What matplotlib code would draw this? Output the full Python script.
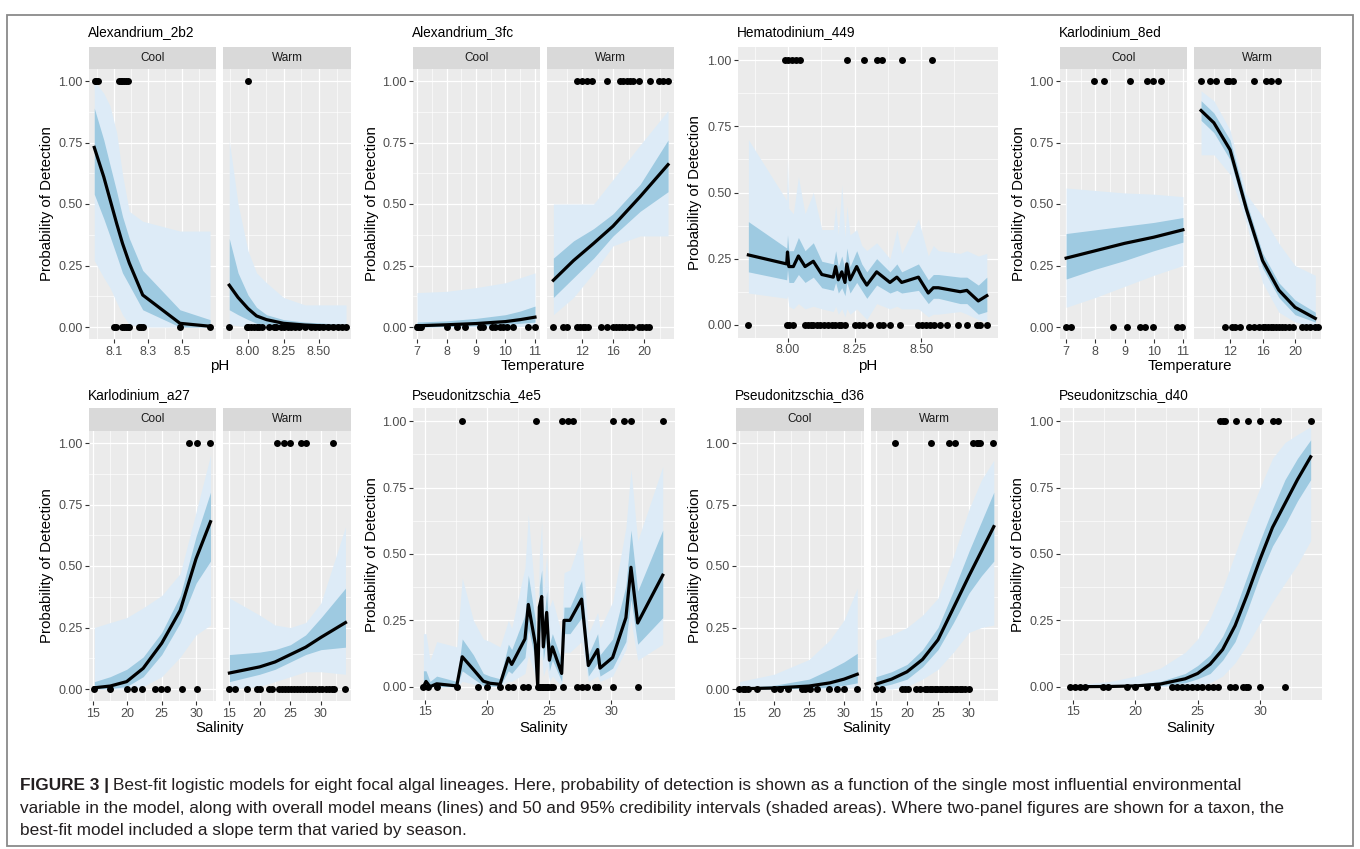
import matplotlib.pyplot as plt
from matplotlib.patches import Rectangle
import numpy as np

plt.rcParams["font.family"] = ["Liberation Sans", "DejaVu Sans"]

# ---- data ----
# Alexandrium_2b2, pH
a2b2_cool_x = [7.984, 8.04, 8.076, 8.116, 8.15, 8.19, 8.269, 8.488, 8.665]
a2b2_cool_mean = [0.73, 0.61, 0.52, 0.42, 0.34, 0.26, 0.13, 0.015, 0.003]
a2b2_cool_hi95 = [1.0, 0.95, 0.9, 0.79, 0.62, 0.47, 0.43, 0.39, 0.39]
a2b2_cool_lo95 = [0.27, 0.2, 0.16, 0.1, 0.05, 0.01, 0.0, 0.0, 0.0]
a2b2_cool_hi50 = [0.89, 0.76, 0.66, 0.55, 0.45, 0.36, 0.23, 0.07, 0.03]
a2b2_cool_lo50 = [0.54, 0.44, 0.37, 0.29, 0.22, 0.17, 0.07, 0.0, 0.0]
a2b2_cool_det = [7.99, 7.995, 8.005, 8.13, 8.14, 8.15, 8.16, 8.17, 8.185]
a2b2_cool_non = [8.1, 8.11, 8.15, 8.16, 8.17, 8.18, 8.19, 8.25, 8.26, 8.27, 8.49, 8.665]

a2b2_warm_x = [7.868, 7.93, 8.0, 8.06, 8.13, 8.25, 8.4, 8.55, 8.69]
a2b2_warm_mean = [0.17, 0.12, 0.075, 0.045, 0.03, 0.015, 0.008, 0.004, 0.002]
a2b2_warm_hi95 = [0.76, 0.5, 0.31, 0.22, 0.18, 0.12, 0.09, 0.09, 0.09]
a2b2_warm_lo95 = [0.01, 0.005, 0.002, 0.001, 0.0, 0.0, 0.0, 0.0, 0.0]
a2b2_warm_hi50 = [0.36, 0.22, 0.13, 0.08, 0.05, 0.03, 0.02, 0.015, 0.01]
a2b2_warm_lo50 = [0.07, 0.05, 0.03, 0.015, 0.01, 0.005, 0.002, 0.001, 0.0]
a2b2_warm_det = [8.0]
a2b2_warm_non = [7.868, 7.99, 8.0, 8.02, 8.04, 8.06, 8.08, 8.1, 8.15, 8.18, 8.2, 8.23,
                 8.25, 8.28, 8.3, 8.33, 8.36, 8.4, 8.44, 8.47, 8.5, 8.53, 8.56, 8.6,
                 8.63, 8.66, 8.69]

# Alexandrium_3fc, Temperature
a3fc_cool_x = [7.0, 8.0, 9.0, 10.0, 10.5, 11.0]
a3fc_cool_mean = [0.005, 0.009, 0.014, 0.022, 0.03, 0.04]
a3fc_cool_hi95 = [0.14, 0.145, 0.16, 0.18, 0.2, 0.22]
a3fc_cool_lo95 = [0.0, 0.0, 0.0, 0.0, 0.002, 0.005]
a3fc_cool_hi50 = [0.02, 0.025, 0.035, 0.05, 0.065, 0.085]
a3fc_cool_lo50 = [0.0, 0.002, 0.005, 0.01, 0.015, 0.02]
a3fc_cool_det = []
a3fc_cool_non = [7.0, 7.05, 7.1, 7.15, 8.0, 8.35, 8.63, 9.14, 9.25, 9.53, 9.65, 9.8,
                 9.9, 10.04, 10.27, 10.77, 11.0]

a3fc_warm_x = [8.3, 10.9, 13.5, 16.0, 19.5, 23.1]
a3fc_warm_mean = [0.19, 0.27, 0.34, 0.41, 0.53, 0.66]
a3fc_warm_hi95 = [0.5, 0.5, 0.5, 0.6, 0.74, 0.88]
a3fc_warm_lo95 = [0.05, 0.12, 0.22, 0.33, 0.37, 0.37]
a3fc_warm_hi50 = [0.28, 0.35, 0.4, 0.46, 0.58, 0.76]
a3fc_warm_lo50 = [0.12, 0.2, 0.28, 0.37, 0.47, 0.55]
a3fc_warm_det = [11.3, 11.96, 12.6, 13.25, 15.2, 16.9, 17.3, 17.8, 18.2, 18.6, 19.3,
                 20.8, 21.9, 22.5, 23.1]
a3fc_warm_non = [8.2, 9.5, 10.1, 11.4, 11.8, 12.1, 12.4, 12.8, 14.5, 15.2, 16.0, 16.4,
                 16.8, 17.2, 17.6, 18.0, 18.4, 19.3, 19.8, 20.3, 20.7]

# Hematodinium_449, pH
hem_x = [7.851, 7.995, 7.998, 8.003, 8.02, 8.039, 8.064, 8.095, 8.127, 8.17, 8.179,
         8.189, 8.202, 8.214, 8.221, 8.233, 8.258, 8.277, 8.296, 8.333, 8.383, 8.409,
         8.427, 8.49, 8.527, 8.546, 8.565, 8.647, 8.672, 8.715, 8.747]
hem_mean = [0.264, 0.23, 0.275, 0.22, 0.22, 0.26, 0.22, 0.24, 0.19, 0.18, 0.22, 0.17,
            0.2, 0.16, 0.23, 0.17, 0.22, 0.18, 0.15, 0.2, 0.16, 0.18, 0.16, 0.18, 0.12,
            0.14, 0.14, 0.125, 0.13, 0.09, 0.11]
hem_hi95 = [0.7, 0.47, 0.63, 0.44, 0.42, 0.56, 0.42, 0.5, 0.36, 0.36, 0.45, 0.34, 0.53,
            0.33, 0.45, 0.34, 0.36, 0.3, 0.28, 0.31, 0.25, 0.36, 0.27, 0.4, 0.26, 0.3,
            0.28, 0.27, 0.28, 0.26, 0.27]
hem_lo95 = [0.12, 0.1, 0.11, 0.07, 0.06, 0.08, 0.06, 0.07, 0.06, 0.05, 0.07, 0.04, 0.06,
            0.03, 0.06, 0.04, 0.06, 0.04, 0.02, 0.08, 0.06, 0.07, 0.06, 0.06, 0.03, 0.04,
            0.04, 0.05, 0.04, 0.02, 0.01]
hem_hi50 = [0.39, 0.29, 0.34, 0.28, 0.28, 0.33, 0.28, 0.31, 0.24, 0.23, 0.28, 0.22, 0.26,
            0.21, 0.29, 0.22, 0.28, 0.23, 0.2, 0.25, 0.2, 0.23, 0.2, 0.23, 0.17, 0.19,
            0.19, 0.18, 0.18, 0.15, 0.18]
hem_lo50 = [0.2, 0.17, 0.21, 0.16, 0.16, 0.19, 0.16, 0.18, 0.14, 0.13, 0.16, 0.12, 0.14,
            0.11, 0.16, 0.12, 0.16, 0.13, 0.1, 0.15, 0.12, 0.13, 0.12, 0.13, 0.08, 0.1,
            0.1, 0.08, 0.08, 0.04, 0.05]
hem_det = [7.99, 8.0, 8.015, 8.03, 8.045, 8.221, 8.286, 8.333, 8.352, 8.427, 8.54]
hem_non = [7.851, 7.995, 8.005, 8.02, 8.064, 8.075, 8.085, 8.095, 8.11, 8.12, 8.135,
           8.15, 8.165, 8.175, 8.19, 8.2, 8.215, 8.252, 8.265, 8.28, 8.308, 8.343,
           8.358, 8.383, 8.421, 8.49, 8.505, 8.52, 8.535, 8.55, 8.57, 8.596, 8.64,
           8.672, 8.71, 8.72, 8.747]

# Karlodinium_8ed, Temperature
k8ed_cool_x = [7.0, 8.0, 9.0, 10.0, 11.0]
k8ed_cool_mean = [0.28, 0.31, 0.34, 0.365, 0.395]
k8ed_cool_hi95 = [0.565, 0.555, 0.545, 0.54, 0.53]
k8ed_cool_lo95 = [0.08, 0.12, 0.165, 0.21, 0.25]
k8ed_cool_hi50 = [0.38, 0.395, 0.41, 0.425, 0.445]
k8ed_cool_lo50 = [0.195, 0.235, 0.27, 0.31, 0.345]
k8ed_cool_det = [7.96, 8.3, 9.19, 9.76, 9.99, 10.25]
k8ed_cool_non = [7.0, 7.17, 8.6, 9.08, 9.53, 9.7, 9.97, 10.8, 10.96]

k8ed_warm_x = [8.42, 10.0, 12.0, 14.0, 16.0, 18.0, 20.0, 22.5]
k8ed_warm_mean = [0.88, 0.83, 0.72, 0.48, 0.27, 0.15, 0.08, 0.035]
k8ed_warm_hi95 = [0.96, 0.92, 0.8, 0.54, 0.45, 0.34, 0.25, 0.21]
k8ed_warm_lo95 = [0.7, 0.7, 0.62, 0.42, 0.18, 0.06, 0.02, 0.0]
k8ed_warm_hi50 = [0.92, 0.87, 0.76, 0.51, 0.3, 0.18, 0.11, 0.06]
k8ed_warm_lo50 = [0.84, 0.79, 0.68, 0.45, 0.24, 0.12, 0.05, 0.02]
k8ed_warm_det = [8.42, 9.53, 10.27, 11.6, 11.9, 12.3, 14.96, 16.4, 17.1, 17.9]
k8ed_warm_non = [11.4, 12.2, 12.6, 13.2, 14.3, 14.9, 15.5, 16.0, 16.3, 16.7, 17.0, 17.3,
                 17.6, 18.0, 18.4, 18.8, 19.3, 19.8, 20.8, 21.4, 21.8, 22.4, 22.8]

# Karlodinium_a27, Salinity
ka27_cool_x = [15.2, 17.5, 19.9, 22.3, 25.0, 27.7, 30.0, 32.1]
ka27_cool_mean = [0.005, 0.012, 0.03, 0.084, 0.186, 0.32, 0.53, 0.68]
ka27_cool_hi95 = [0.25, 0.27, 0.29, 0.33, 0.38, 0.47, 0.72, 0.95]
ka27_cool_lo95 = [0.0, 0.0, 0.0, 0.01, 0.05, 0.13, 0.22, 0.26]
ka27_cool_hi50 = [0.03, 0.05, 0.08, 0.13, 0.23, 0.38, 0.62, 0.8]
ka27_cool_lo50 = [0.0, 0.002, 0.01, 0.05, 0.14, 0.27, 0.43, 0.52]
ka27_cool_det = [29.0, 30.1, 32.0]
ka27_cool_non = [15.2, 17.5, 19.9, 20.9, 22.1, 24.0, 24.9, 25.7, 28.0, 30.1]

ka27_warm_x = [15.05, 20.0, 22.5, 25.0, 27.5, 30.0, 34.0]
ka27_warm_mean = [0.065, 0.09, 0.11, 0.14, 0.17, 0.21, 0.27]
ka27_warm_hi95 = [0.37, 0.3, 0.26, 0.25, 0.27, 0.35, 0.66]
ka27_warm_lo95 = [0.0, 0.01, 0.03, 0.05, 0.07, 0.07, 0.06]
ka27_warm_hi50 = [0.14, 0.15, 0.16, 0.18, 0.22, 0.29, 0.41]
ka27_warm_lo50 = [0.03, 0.06, 0.08, 0.11, 0.14, 0.16, 0.17]
ka27_warm_det = [22.8, 23.9, 25.0, 26.8, 27.6, 32.0]
ka27_warm_non = [15.05, 15.98, 18.0, 19.5, 20.1, 21.5, 22.0, 23.1, 23.6, 24.1, 24.6,
                 25.1, 25.6, 26.1, 26.6, 27.1, 27.6, 28.1, 28.6, 29.1, 29.7, 30.2, 30.8,
                 31.3, 31.8, 32.2, 34.0]

# Pseudonitzschia_4e5, Salinity
p4e5_x = [14.87, 15.08, 15.4, 15.94, 17.56, 18.0, 18.9, 19.7, 20.24, 21.05, 21.72,
          21.99, 23.06, 23.33, 23.9, 24.09, 24.22, 24.41, 24.54, 24.81, 25.03, 25.27,
          26.02, 26.21, 26.69, 27.63, 28.17, 28.92, 29.11, 30.13, 31.2, 31.61, 32.15,
          34.17]
p4e5_mean = [0.0, 0.02, 0.0, 0.011, 0.003, 0.113, 0.065, 0.021, 0.013, 0.009, 0.108,
             0.084, 0.18, 0.31, 0.16, 0.0, 0.3, 0.34, 0.15, 0.28, 0.1, 0.15, 0.05, 0.25,
             0.25, 0.33, 0.08, 0.14, 0.07, 0.11, 0.26, 0.45, 0.24, 0.42]
p4e5_hi95 = [0.2, 0.2, 0.1, 0.17, 0.15, 0.41, 0.25, 0.18, 0.17, 0.15, 0.25, 0.22, 0.45,
             0.65, 0.33, 0.1, 0.5, 0.62, 0.35, 0.5, 0.3, 0.33, 0.2, 0.43, 0.44, 0.57,
             0.2, 0.28, 0.22, 0.32, 0.6, 0.82, 0.55, 0.83]
p4e5_lo95 = [0, 0, 0, 0, 0, 0.02, 0.01, 0, 0, 0, 0.02, 0.02, 0.05, 0.12, 0.04, 0, 0.1,
             0.12, 0.04, 0.08, 0.02, 0.04, 0.0, 0.13, 0.13, 0.17, 0.02, 0.04, 0.02,
             0.04, 0.14, 0.25, 0.1, 0.16]
p4e5_hi50 = [0.06, 0.06, 0.02, 0.04, 0.02, 0.18, 0.12, 0.05, 0.04, 0.03, 0.16, 0.14,
             0.27, 0.42, 0.25, 0.04, 0.38, 0.44, 0.23, 0.36, 0.16, 0.2, 0.1, 0.3, 0.3,
             0.4, 0.12, 0.2, 0.12, 0.18, 0.38, 0.59, 0.36, 0.59]
p4e5_lo50 = [0, 0, 0, 0, 0, 0.06, 0.03, 0.005, 0.003, 0.002, 0.06, 0.05, 0.11, 0.22,
             0.1, 0, 0.2, 0.24, 0.1, 0.19, 0.06, 0.1, 0.02, 0.2, 0.2, 0.26, 0.04, 0.09,
             0.04, 0.07, 0.17, 0.33, 0.16, 0.26]
p4e5_det = [18.0, 23.95, 26.02, 26.5, 26.9, 30.13, 31.07, 31.61, 34.17]
p4e5_non = [14.87, 15.27, 15.94, 17.56, 19.3, 19.98, 21.05, 21.72, 22.07, 22.93, 23.33,
            24.14, 24.3, 24.41, 24.55, 24.68, 24.81, 24.95, 25.15, 25.35, 26.16, 27.24,
            27.63, 28.04, 28.71, 28.98, 30.13, 32.15]

# Pseudonitzschia_d36, Salinity
d36_cool_x = [15.05, 20.0, 25.0, 28.0, 30.0, 31.9]
d36_cool_mean = [0.001, 0.004, 0.012, 0.025, 0.04, 0.06]
d36_cool_hi95 = [0.03, 0.06, 0.12, 0.2, 0.28, 0.41]
d36_cool_lo95 = [0.0, 0.0, 0.0, 0.0, 0.003, 0.01]
d36_cool_hi50 = [0.005, 0.015, 0.04, 0.08, 0.11, 0.145]
d36_cool_lo50 = [0.0, 0.0, 0.003, 0.008, 0.015, 0.025]
d36_cool_det = []
d36_cool_non = [15.05, 15.5, 15.86, 16.3, 17.6, 20.05, 20.86, 22.05, 23.95, 24.5, 25.1,
                26.1, 27.9, 28.95, 30.0, 31.9]

d36_warm_x = [15.0, 17.5, 20.0, 22.5, 25.0, 27.5, 30.0, 32.0, 34.0]
d36_warm_mean = [0.02, 0.04, 0.07, 0.12, 0.2, 0.33, 0.46, 0.56, 0.66]
d36_warm_hi95 = [0.2, 0.22, 0.25, 0.3, 0.37, 0.54, 0.73, 0.85, 0.93]
d36_warm_lo95 = [0.0, 0.0, 0.01, 0.04, 0.08, 0.15, 0.23, 0.25, 0.26]
d36_warm_hi50 = [0.05, 0.07, 0.1, 0.16, 0.25, 0.4, 0.56, 0.68, 0.8]
d36_warm_lo50 = [0.005, 0.02, 0.04, 0.09, 0.16, 0.27, 0.39, 0.46, 0.52]
d36_warm_det = [18.06, 23.87, 26.7, 27.7, 30.7, 31.24, 31.5, 31.77, 33.8]
d36_warm_non = [15.0, 15.9, 19.2, 19.6, 20.1, 21.5, 22.1, 22.9, 23.3, 23.7, 24.1, 24.5,
                24.9, 25.3, 25.7, 26.1, 26.5, 26.9, 27.3, 27.7, 28.1, 28.5, 28.9, 29.3,
                30.0]

# Pseudonitzschia_d40, Salinity
d40_x = [14.76, 18.0, 20.0, 22.0, 24.0, 25.0, 26.0, 27.0, 28.0, 29.0, 30.0, 31.0, 32.0,
         33.0, 34.06]
d40_mean = [0.0, 0.001, 0.003, 0.01, 0.03, 0.05, 0.085, 0.14, 0.23, 0.35, 0.48, 0.6,
            0.69, 0.78, 0.866]
d40_hi95 = [0.005, 0.02, 0.04, 0.07, 0.13, 0.18, 0.26, 0.37, 0.5, 0.63, 0.75, 0.86,
            0.92, 0.95, 0.98]
d40_lo95 = [0.0, 0.0, 0.0, 0.0, 0.0, 0.005, 0.015, 0.04, 0.09, 0.16, 0.24, 0.32, 0.39,
            0.46, 0.55]
d40_hi50 = [0.0, 0.003, 0.008, 0.02, 0.05, 0.08, 0.12, 0.19, 0.29, 0.42, 0.55, 0.67,
            0.78, 0.86, 0.93]
d40_lo50 = [0.0, 0.0, 0.001, 0.004, 0.015, 0.03, 0.05, 0.1, 0.17, 0.29, 0.42, 0.53,
            0.61, 0.7, 0.78]
d40_det = [26.79, 27.0, 27.19, 28.07, 29.0, 30.0, 31.01, 31.46, 34.06]
d40_non = [14.76, 15.16, 15.56, 15.96, 17.43, 17.83, 19.3, 19.97, 20.9, 21.7, 22.91,
           23.31, 23.71, 24.11, 24.51, 24.91, 25.31, 25.85, 26.25, 26.65, 27.58, 27.98,
           28.65, 28.85, 29.05, 30.0, 32.0]

# ---- figure ----
W, H = 1360, 849
fig = plt.figure(figsize=(W / 100, H / 100), dpi=100)

LIGHT = "#DDEBF7"
DARK = "#9ECAE1"


def box(l, t, r, b):
    return [l / W, 1 - b / H, (r - l) / W, (b - t) / H]


def facet(pos, x, mean, lo95, hi95, lo50, hi50, det, non, xlim, ticks, labels, minor,
          show_y=True):
    ax = fig.add_axes(box(*pos))
    ax.set_facecolor("#EBEBEB")
    ax.fill_between(x, lo95, hi95, color=LIGHT, lw=0)
    ax.fill_between(x, lo50, hi50, color=DARK, lw=0)
    ax.plot(x, mean, color="black", lw=2.3, solid_joinstyle="round")
    ax.scatter(det, np.ones(len(det)), s=25, color="black", lw=0, zorder=5)
    ax.scatter(non, np.zeros(len(non)), s=25, color="black", lw=0, zorder=5)
    ax.set_xlim(xlim)
    ax.set_ylim(-0.05, 1.05)
    ax.set_xticks(ticks)
    ax.set_xticklabels(labels)
    ax.set_xticks(minor, minor=True)
    ax.set_yticks([0, 0.25, 0.5, 0.75, 1.0])
    ax.set_yticklabels(["0.00", "0.25", "0.50", "0.75", "1.00"])
    ax.set_yticks([0.125, 0.375, 0.625, 0.875], minor=True)
    ax.set_axisbelow(True)
    ax.grid(which="major", color="white", lw=0.9)
    ax.grid(which="minor", color="white", lw=0.45)
    ax.tick_params(which="minor", length=0)
    ax.tick_params(which="major", length=2.6, width=0.8, color="#333333",
                   labelsize=9, labelcolor="#4D4D4D", pad=2)
    if not show_y:
        ax.tick_params(axis="y", left=False, labelleft=False)
    for s in ax.spines.values():
        s.set_visible(False)
    return ax


def strip(l, t, r, b, label):
    ax = fig.add_axes(box(l, t, r, b))
    ax.set_facecolor("#D9D9D9")
    ax.set_xticks([])
    ax.set_yticks([])
    for s in ax.spines.values():
        s.set_visible(False)
    ax.text(0.5, 0.5, label, ha="center", va="center", fontsize=8.5, color="#1A1A1A",
            transform=ax.transAxes)


def title(x, y, s):
    fig.text(x / W, 1 - y / H, s, ha="left", va="center", fontsize=9.8, color="black")


def xlab(x, y, s):
    fig.text(x / W, 1 - y / H, s, ha="center", va="center", fontsize=10.8)


def ylab(x, y, s="Probability of Detection"):
    fig.text(x / W, 1 - y / H, s, ha="center", va="center", rotation=90, fontsize=10.8)


ph_c = ([8.1, 8.3, 8.5], ["8.1", "8.3", "8.5"], [8.0, 8.2, 8.4, 8.6])
ph_w = ([8.0, 8.25, 8.5], ["8.00", "8.25", "8.50"], [7.875, 8.125, 8.375, 8.625])
tc = ([7, 8, 9, 10, 11], ["7", "8", "9", "10", "11"], [7.5, 8.5, 9.5, 10.5])
tw = ([12, 16, 20], ["12", "16", "20"], [10, 14, 18, 22])
sal = ([15, 20, 25, 30], ["15", "20", "25", "30"], [17.5, 22.5, 27.5, 32.5])

# row 1
R1S, R1T, R1B = 47, 68.7, 339.3
R2S, R2T, R2B = 408, 430.7, 701.3

facet((89, R1T, 216, R1B), a2b2_cool_x, a2b2_cool_mean, a2b2_cool_lo95, a2b2_cool_hi95,
      a2b2_cool_lo50, a2b2_cool_hi50, a2b2_cool_det, a2b2_cool_non, (7.953, 8.70), *ph_c)
facet((223, R1T, 351, R1B), a2b2_warm_x, a2b2_warm_mean, a2b2_warm_lo95, a2b2_warm_hi95,
      a2b2_warm_lo50, a2b2_warm_hi50, a2b2_warm_det, a2b2_warm_non, (7.824, 8.725), *ph_w,
      show_y=False)
strip(89, R1S, 216, R1T, "Cool")
strip(223, R1S, 351, R1T, "Warm")
title(88, 32, "Alexandrium_2b2")
xlab(220, 366, "pH")
ylab(47, 204)

facet((413, R1T, 540, R1B), a3fc_cool_x, a3fc_cool_mean, a3fc_cool_lo95, a3fc_cool_hi95,
      a3fc_cool_lo50, a3fc_cool_hi50, a3fc_cool_det, a3fc_cool_non, (6.864, 11.17), *tc)
facet((547, R1T, 674, R1B), a3fc_warm_x, a3fc_warm_mean, a3fc_warm_lo95, a3fc_warm_hi95,
      a3fc_warm_lo50, a3fc_warm_hi50, a3fc_warm_det, a3fc_warm_non, (7.48, 23.87), *tw,
      show_y=False)
strip(413, R1S, 540, R1T, "Cool")
strip(547, R1S, 674, R1T, "Warm")
title(412, 32, "Alexandrium_3fc")
xlab(543, 366, "Temperature")
ylab(372, 204)

facet((738, 47, 998, 338), hem_x, hem_mean, hem_lo95, hem_hi95, hem_lo50, hem_hi50,
      hem_det, hem_non, (7.812, 8.789), *ph_w)
title(737, 32, "Hematodinium_449")
xlab(868, 366, "pH")
ylab(695, 193)

facet((1060, R1T, 1187, R1B), k8ed_cool_x, k8ed_cool_mean, k8ed_cool_lo95, k8ed_cool_hi95,
      k8ed_cool_lo50, k8ed_cool_hi50, k8ed_cool_det, k8ed_cool_non, (6.79, 11.14), *tc)
facet((1194, R1T, 1321, R1B), k8ed_warm_x, k8ed_warm_mean, k8ed_warm_lo95, k8ed_warm_hi95,
      k8ed_warm_lo50, k8ed_warm_hi50, k8ed_warm_det, k8ed_warm_non, (7.55, 23.2), *tw,
      show_y=False)
strip(1060, R1S, 1187, R1T, "Cool")
strip(1194, R1S, 1321, R1T, "Warm")
title(1059, 32, "Karlodinium_8ed")
xlab(1190, 366, "Temperature")
ylab(1019, 204)

# row 2
facet((89, R2T, 216, R2B), ka27_cool_x, ka27_cool_mean, ka27_cool_lo95, ka27_cool_hi95,
      ka27_cool_lo50, ka27_cool_hi50, ka27_cool_det, ka27_cool_non, (14.42, 32.9), *sal)
facet((223, R2T, 351, R2B), ka27_warm_x, ka27_warm_mean, ka27_warm_lo95, ka27_warm_hi95,
      ka27_warm_lo50, ka27_warm_hi50, ka27_warm_det, ka27_warm_non, (14.0, 34.9), *sal,
      show_y=False)
strip(89, R2S, 216, R2T, "Cool")
strip(223, R2S, 351, R2T, "Warm")
title(88, 395, "Karlodinium_a27")
xlab(220, 728, "Salinity")
ylab(47, 566)

facet((413, 408, 675, 700), p4e5_x, p4e5_mean, p4e5_lo95, p4e5_hi95, p4e5_lo50, p4e5_hi50,
      p4e5_det, p4e5_non, (14.03, 35.16), *sal)
title(412, 395, "Pseudonitzschia_4e5")
xlab(544, 728, "Salinity")
ylab(372, 555)

facet((736, R2T, 864, R2B), d36_cool_x, d36_cool_mean, d36_cool_lo95, d36_cool_hi95,
      d36_cool_lo50, d36_cool_hi50, d36_cool_det, d36_cool_non, (14.57, 32.86), *sal)
facet((871, R2T, 998, R2B), d36_warm_x, d36_warm_mean, d36_warm_lo95, d36_warm_hi95,
      d36_warm_lo50, d36_warm_hi50, d36_warm_det, d36_warm_non, (14.19, 34.68), *sal,
      show_y=False)
strip(736, R2S, 864, R2T, "Cool")
strip(871, R2S, 998, R2T, "Warm")
title(735, 395, "Pseudonitzschia_d36")
xlab(867, 728, "Salinity")
ylab(695, 566)

facet((1060, 408, 1322, 700), d40_x, d40_mean, d40_lo95, d40_hi95, d40_lo50, d40_hi50,
      d40_det, d40_non, (13.96, 34.97), *sal)
title(1059, 395, "Pseudonitzschia_d40")
xlab(1191, 728, "Salinity")
ylab(1018, 555)

# ---- caption and frame ----
fig.add_artist(Rectangle((7 / W, 1 - 846 / H), (1353 - 7) / W, (846 - 15) / H,
                         transform=fig.transFigure, fill=False, ec="#8A8A8A", lw=1.3))

CAP = 12.4
bold = fig.text(20 / W, 1 - 790 / H, "FIGURE 3 |", fontsize=CAP, weight="bold",
                va="baseline", color="#231F20")
fig.canvas.draw()
bb = bold.get_window_extent()
fig.text((bb.x1 + 4) / W, 1 - 790 / H,
         "Best-fit logistic models for eight focal algal lineages. Here, probability of "
         "detection is shown as a function of the single most influential environmental",
         fontsize=CAP, va="baseline", color="#231F20")
fig.text(20 / W, 1 - 813 / H,
         "variable in the model, along with overall model means (lines) and 50 and 95% "
         "credibility intervals (shaded areas). Where two-panel figures are shown for a "
         "taxon, the", fontsize=CAP, va="baseline", color="#231F20")
fig.text(20 / W, 1 - 835 / H, "best-fit model included a slope term that varied by season.",
         fontsize=CAP, va="baseline", color="#231F20")

fig.savefig("out.png", dpi=100)
